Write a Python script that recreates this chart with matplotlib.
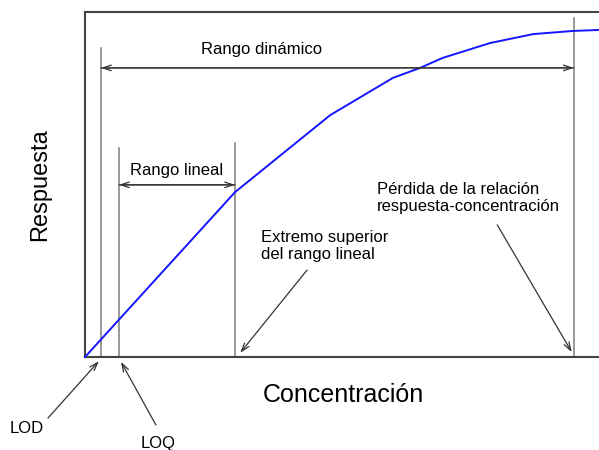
import matplotlib.pyplot as plt

plt.rcParams['font.family'] = ['Liberation Sans', 'DejaVu Sans']

# respuesta vs concentracion (unidades arbitrarias 0-10)
conc = [0, 2.92, 4.77, 5.99, 6.52, 6.96, 7.88, 8.72, 9.49, 10]
resp = [0, 4.78, 7.01, 8.09, 8.38, 8.67, 9.10, 9.36, 9.45, 9.48]

# limites marcados con lineas verticales
lim_x = [0.31, 0.66, 2.92, 9.51]
lim_top = [8.96, 6.06, 6.20, 9.83]

fig = plt.figure(figsize=(5.99, 4.5), dpi=100)
ax = fig.add_axes([85 / 599, 93 / 450, 1 - 85 / 599, 345 / 450])
ax.set_xlim(0, 10)
ax.set_ylim(0, 10)
ax.set_xticks([])
ax.set_yticks([])
ax.spines['right'].set_visible(False)
for s in ['left', 'top', 'bottom']:
    ax.spines[s].set_color('#444444')
    ax.spines[s].set_linewidth(1.5)

ax.plot(conc, resp, color='#1515ff', lw=1.4, clip_on=False, zorder=3)

for x, top in zip(lim_x, lim_top):
    ax.plot([x, x], [0, top], color='#888888', lw=1.2)

arr = dict(arrowstyle='->,head_length=0.6,head_width=0.2', color='#333333', lw=0.9,
           shrinkA=0, shrinkB=0)

# rango dinamico
ax.annotate('', xy=(lim_x[0], 8.38), xytext=(lim_x[3], 8.38), arrowprops=arr)
ax.annotate('', xy=(lim_x[3], 8.38), xytext=(lim_x[0], 8.38), arrowprops=arr)
ax.text(3.44, 8.9, 'Rango dinámico', ha='center', va='center', fontsize=12)

# rango lineal
ax.annotate('', xy=(lim_x[1], 4.99), xytext=(lim_x[2], 4.99), arrowprops=arr)
ax.annotate('', xy=(lim_x[2], 4.99), xytext=(lim_x[1], 4.99), arrowprops=arr)
ax.text(1.79, 5.42, 'Rango lineal', ha='center', va='center', fontsize=12)

ax.text(3.42, 3.68, 'Extremo superior\ndel rango lineal', ha='left', va='top',
        fontsize=12, linespacing=1.2)
ax.annotate('', xy=(3.02, 0.12), xytext=(4.32, 2.52), arrowprops=arr)

ax.text(5.68, 5.07, 'Pérdida de la relación\nrespuesta-concentración', ha='left',
        va='top', fontsize=12, linespacing=1.2)
ax.annotate('', xy=(9.47, 0.14), xytext=(8.02, 3.83), arrowprops=arr)

ax.annotate('', xy=(0.27, -0.12), xytext=(-0.72, -1.77), arrowprops=arr,
            annotation_clip=False)
ax.text(-1.13, -2.06, 'LOD', ha='center', va='center', fontsize=12, clip_on=False)

ax.annotate('', xy=(0.70, -0.14), xytext=(1.38, -1.97), arrowprops=arr,
            annotation_clip=False)
ax.text(1.42, -2.52, 'LOQ', ha='center', va='center', fontsize=12, clip_on=False)

fig.text(343 / 599, 1 - 395 / 450, 'Concentración', ha='center', va='center', fontsize=18)
fig.text(40 / 599, 1 - 185 / 450, 'Respuesta', ha='center', va='center', fontsize=17,
         rotation=90)

fig.savefig('out.png', dpi=100)
